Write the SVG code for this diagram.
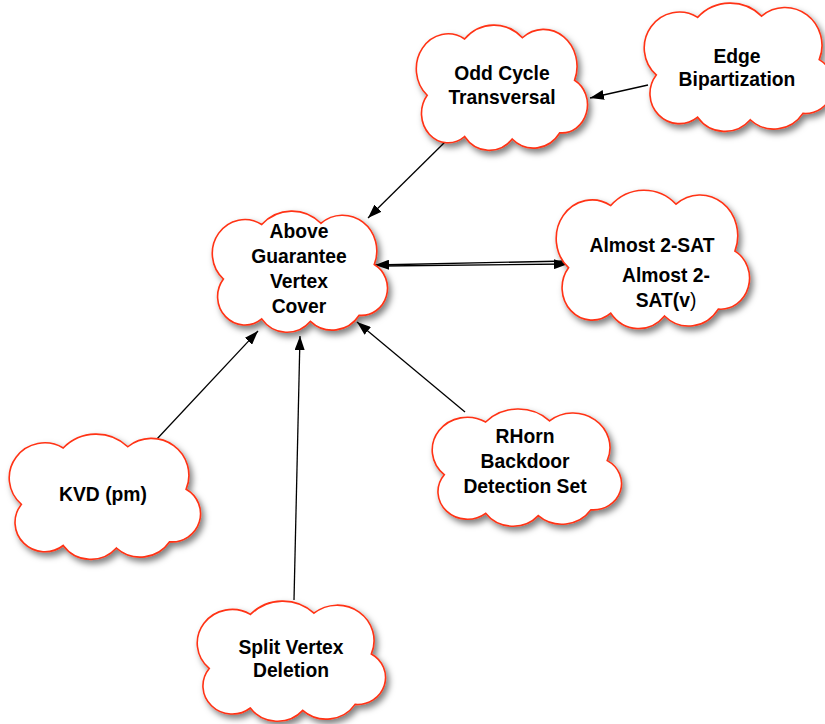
<svg xmlns="http://www.w3.org/2000/svg" xmlns:xlink="http://www.w3.org/1999/xlink" width="825" height="724" viewBox="0 0 825 724">
  <style>
    .cloud { fill: #ffffff; stroke: #ff3314; stroke-width: 1.6; filter: url(#shadow); }
    .label { font-family: "Liberation Sans", Arial, Helvetica, sans-serif; font-weight: bold; font-size: 19.3px; fill: #000000; text-anchor: middle; }
    .edge { stroke: #000000; stroke-width: 1.3; fill: none; }
  </style>
  <defs>
    <filter id="shadow" x="-15%" y="-15%" width="135%" height="140%">
      <feDropShadow dx="3" dy="4" stdDeviation="3" flood-color="#000000" flood-opacity="0.5"/>
    </filter>
    <!-- seven-lobed cloud outline, stretched to each node's box -->
    <symbol id="cloud-shape" viewBox="0 0 150 100" preserveAspectRatio="none" overflow="visible">
      <path vector-effect="non-scaling-stroke"
            d="M 9,57 A 28 28 0 0 1 42,12 A 36 36 0 0 1 93,11 A 29.5 29.5 0 0 1 139,45 A 22.5 22.5 0 0 1 126,87 A 28 28 0 0 1 84,92 A 27 27 0 0 1 42,90 A 23.5 23.5 0 0 1 9,57 Z"/>
    </symbol>
    <marker id="arrow" viewBox="0 0 14 10" refX="14" refY="5" markerWidth="14" markerHeight="10" markerUnits="userSpaceOnUse" orient="auto-start-reverse">
      <path d="M 0,0 L 14,5 L 0,10 Z" fill="#000000"/>
    </marker>
  </defs>

  <g id="connectors">
    <line class="edge" x1="648" y1="85" x2="590" y2="98" marker-end="url(#arrow)"/>
    <line class="edge" x1="446" y1="141" x2="368" y2="218" marker-end="url(#arrow)"/>
    <line class="edge" x1="568" y1="261" x2="375" y2="265" marker-end="url(#arrow)"/>
    <line class="edge" x1="382" y1="266" x2="568" y2="264" marker-end="url(#arrow)"/>
    <line class="edge" x1="156" y1="440" x2="258" y2="331" marker-end="url(#arrow)"/>
    <line class="edge" x1="294" y1="600" x2="300" y2="336" marker-end="url(#arrow)"/>
    <line class="edge" x1="465" y1="412" x2="357" y2="322" marker-end="url(#arrow)"/>
  </g>

  <g id="odd-cycle-transversal">
    <use class="cloud" xlink:href="#cloud-shape" x="417" y="24" width="170" height="125"/>
    <text class="label" x="502" y="80">Odd Cycle</text>
    <text class="label" x="502" y="104">Transversal</text>
  </g>

  <g id="edge-bipartization">
    <use class="cloud" xlink:href="#cloud-shape" x="645" y="2" width="188" height="128"/>
    <text class="label" x="737" y="63">Edge</text>
    <text class="label" x="737" y="86">Bipartization</text>
  </g>

  <g id="above-guarantee-vertex-cover">
    <use class="cloud" xlink:href="#cloud-shape" x="213" y="210" width="174" height="121"/>
    <text class="label" x="299" y="238">Above</text>
    <text class="label" x="299" y="263">Guarantee</text>
    <text class="label" x="299" y="288">Vertex</text>
    <text class="label" x="299" y="313">Cover</text>
  </g>

  <g id="almost-2-sat">
    <use class="cloud" xlink:href="#cloud-shape" x="557" y="189" width="192" height="138"/>
    <text class="label" x="652" y="252">Almost 2-SAT</text>
    <text class="label" x="666" y="282">Almost 2-</text>
    <text class="label" x="666" y="307">SAT(v<tspan font-weight="normal">)</tspan></text>
  </g>

  <g id="rhorn-backdoor-detection-set">
    <use class="cloud" xlink:href="#cloud-shape" x="433" y="408" width="188" height="117"/>
    <text class="label" x="525" y="443">RHorn</text>
    <text class="label" x="525" y="468">Backdoor</text>
    <text class="label" x="525" y="493">Detection Set</text>
  </g>

  <g id="kvd-pm">
    <use class="cloud" xlink:href="#cloud-shape" x="10" y="433" width="190" height="125"/>
    <text class="label" x="103" y="501">KVD (pm)</text>
  </g>

  <g id="split-vertex-deletion">
    <use class="cloud" xlink:href="#cloud-shape" x="198" y="600" width="187" height="120"/>
    <text class="label" x="291" y="654">Split Vertex</text>
    <text class="label" x="291" y="677">Deletion</text>
  </g>
</svg>
